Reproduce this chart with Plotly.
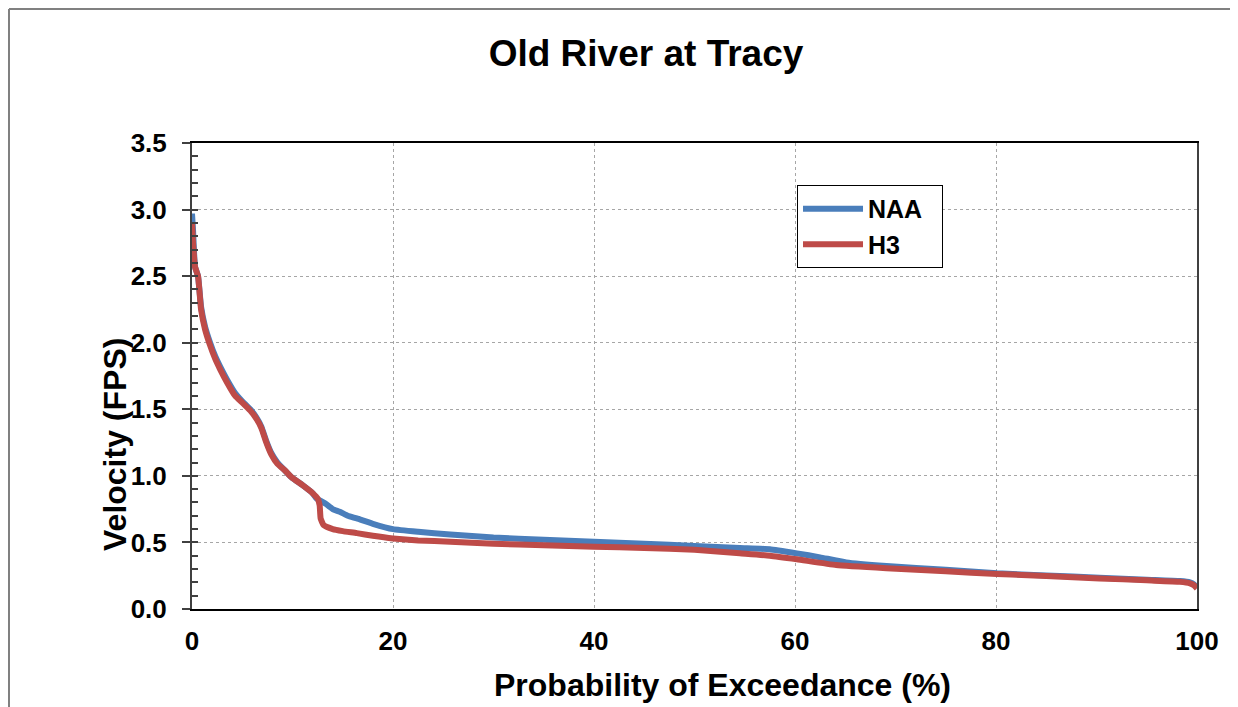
import plotly.graph_objects as go

# exceedance probability (%) and velocity (FPS)
naa_x = [0, 0.1, 0.3, 0.6, 0.9, 1.3, 1.8, 2.3, 2.8, 3.5, 4.3, 5.0, 5.8, 6.4, 6.9, 7.4,
         7.9, 8.5, 9.25, 9.9, 11.0, 12.0, 12.4, 13.3, 14.0, 14.7, 15.5, 16.4, 18.0, 20.0,
         22.5, 25.7, 30.0, 35.0, 40.0, 45.0, 50.0, 54.5, 57.5, 60.2, 62.5, 65.1, 69.1,
         75.0, 80.1, 85.0, 90.3, 95.0, 98.3, 99.3, 99.7, 100]
naa_y = [2.97, 2.85, 2.57, 2.50, 2.27, 2.12, 2.00, 1.90, 1.82, 1.72, 1.62, 1.56, 1.50, 1.44,
         1.37, 1.26, 1.17, 1.10, 1.04, 0.99, 0.93, 0.87, 0.83, 0.79, 0.75, 0.73, 0.70, 0.68,
         0.64, 0.60, 0.58, 0.56, 0.537, 0.52, 0.506, 0.49, 0.474, 0.458, 0.449, 0.418, 0.388,
         0.35, 0.323, 0.295, 0.268, 0.252, 0.235, 0.22, 0.21, 0.20, 0.185, 0.16]

h3_x = [0, 0.1, 0.3, 0.6, 0.9, 1.3, 1.8, 2.3, 2.8, 3.5, 4.3, 5.0, 5.8, 6.4, 6.9, 7.4,
        7.9, 8.5, 9.25, 9.9, 11.0, 12.0, 12.5, 12.7, 12.8, 13.1, 14.0, 15.0, 16.4, 18.0,
        20.0, 22.5, 25.7, 30.0, 35.0, 40.0, 45.0, 50.0, 54.5, 57.5, 60.2, 64.1, 69.1,
        75.0, 80.1, 85.0, 90.3, 95.0, 98.3, 99.3, 99.7, 100]
h3_y = [2.90, 2.75, 2.57, 2.50, 2.25, 2.10, 1.98, 1.88, 1.80, 1.70, 1.60, 1.55, 1.49, 1.43,
        1.36, 1.25, 1.16, 1.09, 1.04, 0.99, 0.93, 0.87, 0.83, 0.78, 0.68, 0.63, 0.60, 0.585,
        0.57, 0.55, 0.53, 0.515, 0.506, 0.49, 0.478, 0.468, 0.458, 0.445, 0.418, 0.40, 0.373,
        0.33, 0.306, 0.283, 0.263, 0.248, 0.23, 0.215, 0.205, 0.193, 0.178, 0.155]

x_ticks = [0, 20, 40, 60, 80, 100]
y_ticks = [0, 0.5, 1.0, 1.5, 2.0, 2.5, 3.0, 3.5]

FONT = "Liberation Sans, Arial, sans-serif"
PAD = "\u00a0\u00a0"  # widens the legend box a little

fig = go.Figure()
fig.add_trace(go.Scatter(x=naa_x, y=naa_y, mode='lines', name='NAA' + PAD,
                         line=dict(color='#4A7EBB', width=6, shape='spline', smoothing=0.4)))
fig.add_trace(go.Scatter(x=h3_x, y=h3_y, mode='lines', name='H3' + PAD,
                         line=dict(color='#BE4B48', width=6, shape='spline', smoothing=0.4)))
# empty trace so the overlay axis carrying the inside minor ticks gets drawn
fig.add_trace(go.Scatter(x=[], y=[], yaxis='y2', showlegend=False, hoverinfo='skip'))

# page body adds an 8px offset, so the figure is 8px smaller and margins shifted
fig.update_layout(
    width=1230, height=699,
    margin=dict(l=184, r=41, t=135, b=98),
    paper_bgcolor='white', plot_bgcolor='white',
    font=dict(family=FONT, color='black'),
    title=dict(text='Old River at Tracy', x=0.5187, xref='container', xanchor='center',
               y=0.936, yanchor='middle',
               font=dict(family=FONT, size=37, weight='bold', color='black')),
    showlegend=True,
    legend=dict(x=0.602, y=0.91, xanchor='left', yanchor='top',
                bordercolor='black', borderwidth=1, bgcolor='white',
                font=dict(family=FONT, size=25, weight='bold'),
                itemwidth=60, tracegroupgap=0),
    annotations=[
        dict(text='Probability of Exceedance (%)', x=0.528, y=-0.163, xref='paper', yref='paper',
             showarrow=False, xanchor='center', yanchor='middle',
             font=dict(family=FONT, size=32, weight='bold')),
        dict(text='Velocity (FPS)', x=-0.0766, y=0.352, xref='paper', yref='paper',
             showarrow=False, xanchor='center', yanchor='middle', textangle=-90,
             font=dict(family=FONT, size=32, weight='bold')),
    ],
    # outer chart border (left and top edges visible)
    shapes=[
        dict(type='line', xref='paper', yref='paper', x0=-0.1821, x1=-0.1821, y0=-0.3, y1=1.2876,
             line=dict(color='#808080', width=2)),
        dict(type='line', xref='paper', yref='paper', x0=-0.1821, x1=1.2, y0=1.2876, y1=1.2876,
             line=dict(color='#808080', width=2)),
    ],
    yaxis2=dict(overlaying='y', side='left', range=[0, 3.5], dtick=0.1,
                ticks='inside', ticklen=6, tickcolor='#404040', tickwidth=1.5,
                showticklabels=False, showgrid=False, showline=False, zeroline=False),
)

fig.update_xaxes(
    range=[0, 100], tickvals=x_ticks, ticks='',
    showgrid=True, gridcolor='#A6A6A6', griddash='dot', gridwidth=1,
    showline=True, linecolor='black', linewidth=1.5, mirror=True,
    zeroline=False, ticklabelstandoff=8,
    tickfont=dict(family=FONT, size=26, weight='bold', color='black'),
)
fig.layout.yaxis.update(range=[0, 3.5], tickvals=y_ticks, tickformat='.1f',
                        ticks='outside', ticklen=8, tickcolor='#404040', tickwidth=1.5,
                        showgrid=True, gridcolor='#A6A6A6', griddash='dot', gridwidth=1,
                        showline=True, linecolor='#404040', linewidth=2, mirror=True,
                        zeroline=False, ticklabelstandoff=10,
                        tickfont=dict(family=FONT, size=26, weight='bold', color='black'))

fig.write_html("out.html")
